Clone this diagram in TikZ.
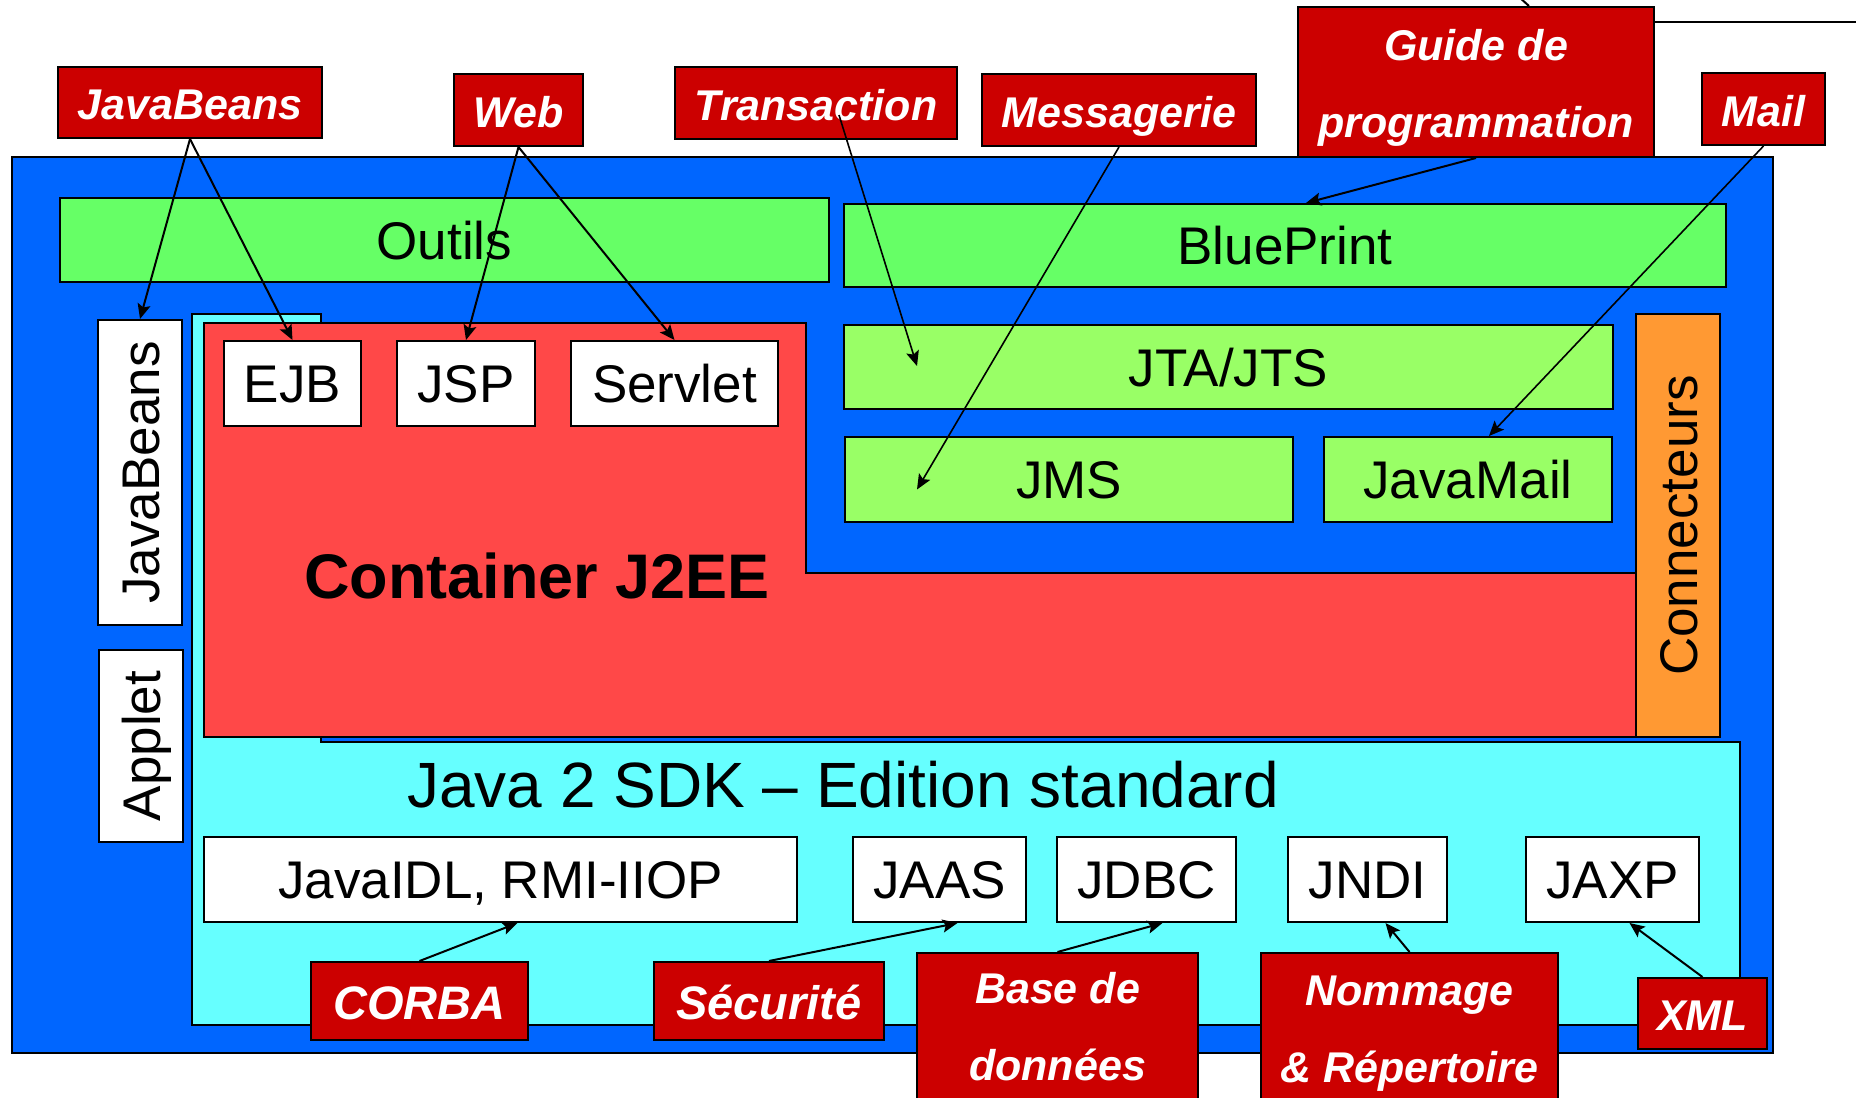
\documentclass[tikz,border=0pt]{standalone}
\usepackage{fontspec}
\setmainfont{Liberation Sans}
\usetikzlibrary{arrows.meta,calc}
\definecolor{blueC}{HTML}{0066FF}
\definecolor{greenA}{HTML}{66FF66}
\definecolor{greenB}{HTML}{99FF66}
\definecolor{redC}{HTML}{FF4848}
\definecolor{cyanC}{HTML}{66FFFF}
\definecolor{orangeC}{HTML}{FF9933}
\definecolor{lblred}{HTML}{CC0000}
\tikzset{
  bx/.style={draw=black, line width=2pt, inner sep=0pt, text height=38pt, text depth=0pt, font=\fontsize{53}{60}\selectfont},
  lbl/.style={draw=black, line width=2pt, fill=lblred, text=white, inner sep=0pt, font=\fontsize{43}{77}\selectfont\bfseries\itshape, align=center},
  lblone/.style={lbl, text height=34pt, text depth=0pt},
  lblbig/.style={lbl, font=\fontsize{47}{77}\selectfont\bfseries\itshape, text height=36pt, text depth=0pt},
  arr/.style={-{Stealth[length=15pt,width=13pt,inset=3pt]}, line width=2pt},
  arrt/.style={-{Stealth[length=15pt,width=13pt,inset=3pt]}, line width=1.6pt},
  plain/.style={line width=2pt}
}
\begin{document}
\begin{tikzpicture}[x=1pt,y=-1pt]
\useasboundingbox (0,0) rectangle (1856,1098);
\clip (0,0) rectangle (1856,1098);
% outer blue
\draw[plain, fill=blueC] (12,157) rectangle (1773,1053);
% top bars
\node[bx, fill=greenA, minimum width=769pt, minimum height=84pt] (outils) at (444.5,240) {Outils};
\node[bx, fill=greenA, minimum width=882pt, minimum height=83pt] (bp) at (1285,245.5) {BluePrint};
% left vertical boxes
\node[bx, fill=white, rotate=90, minimum width=305pt, minimum height=84pt] (jbw) at (140,472.5) {JavaBeans};
\node[bx, fill=white, rotate=90, minimum width=192pt, minimum height=84pt] (applet) at (141,746) {Applet};
% cyan SDK shape
\draw[plain, fill=cyanC] (192,314) -- (321,314) -- (321,742) -- (1740,742) -- (1740,1025) -- (192,1025) -- cycle;
% red container shape
\draw[plain, fill=redC] (204,323) -- (806,323) -- (806,573) -- (1636,573) -- (1636,737) -- (204,737) -- cycle;
% connecteurs
\node[bx, fill=orangeC, rotate=90, minimum width=423pt, minimum height=84pt] (conn) at (1678,525.5) {Connecteurs};
% services
\node[bx, fill=greenB, minimum width=769pt, minimum height=84pt] (jta) at (1228.5,367) {JTA/JTS};
\node[bx, fill=greenB, minimum width=448pt, minimum height=85pt] (jms) at (1069,479.5) {JMS};
\node[bx, fill=greenB, minimum width=288pt, minimum height=85pt] (jmail) at (1468,479.5) {JavaMail};
% web components
\node[bx, fill=white, minimum width=137pt, minimum height=85pt] (ejb) at (292.5,383.5) {EJB};
\node[bx, fill=white, minimum width=138pt, minimum height=85pt] (jsp) at (466,383.5) {JSP};
\node[bx, fill=white, minimum width=207pt, minimum height=85pt] (servlet) at (674.5,383.5) {Servlet};
% titles
\node[font=\fontsize{63}{70}\selectfont\bfseries, anchor=base, inner sep=0pt] (cont) at (537,598) {Container J2EE};
\node[font=\fontsize{64}{70}\selectfont, anchor=base, inner sep=0pt] (sdk) at (843,807) {Java 2 SDK – Edition standard};
% SDK APIs
\node[bx, fill=white, minimum width=593pt, minimum height=85pt] (idl) at (500.5,879.5) {JavaIDL, RMI-IIOP};
\node[bx, fill=white, minimum width=173pt, minimum height=85pt] (jaas) at (939.5,879.5) {JAAS};
\node[bx, fill=white, minimum width=179pt, minimum height=85pt] (jdbc) at (1146.5,879.5) {JDBC};
\node[bx, fill=white, minimum width=159pt, minimum height=85pt] (jndi) at (1367.5,879.5) {JNDI};
\node[bx, fill=white, minimum width=173pt, minimum height=85pt] (jaxp) at (1612.5,879.5) {JAXP};
% labels
\node[lblone, minimum width=264pt, minimum height=71pt] (lJB) at (190,102.5) {JavaBeans};
\node[lblone, minimum width=129pt, minimum height=72pt] (lWeb) at (518.5,110) {Web};
\node[lblone, minimum width=282pt, minimum height=72pt] (lTrans) at (816,103) {Transaction};
\node[lblone, minimum width=274pt, minimum height=72pt] (lMsg) at (1119,110) {Messagerie};
\node[lbl, minimum width=356pt, minimum height=150pt] (lGuide) at (1476,82) {\rule{0pt}{42pt}Guide de\\programmation};
\node[lblone, minimum width=123pt, minimum height=72pt] (lMail) at (1763.5,109) {Mail};
\node[lblbig, minimum width=217pt, minimum height=78pt] (lCorba) at (419.5,1001) {CORBA};
\node[lblbig, minimum width=230pt, minimum height=78pt] (lSec) at (769,1001) {Sécurité};
\node[lbl, minimum width=281pt, minimum height=147pt] (lBase) at (1057.5,1026.5) {Base de\\données};
\node[lbl, minimum width=297pt, minimum height=155pt] (lNom) at (1409.5,1030.5) {\rule{0pt}{36pt}Nommage\\\& Répertoire};
\node[lblone, minimum width=129pt, minimum height=71pt] (lXML) at (1702.5,1013.5) {XML};
% connectors
\draw[arr] (lJB.south) -- (jbw.east);
\draw[arr] (lJB.south) -- (ejb.north);
\draw[arr] (lWeb.south) -- (jsp.north);
\draw[arr] (lWeb.south) -- (servlet.north);
\draw[arrt] ($(lTrans.center)+(23,12)$) -- ($(jta.west)+(74,-1)$);
\draw[arrt] (lMsg.south) -- ($(jms.west)+(73,10)$);
\draw[arr] (lGuide.south) -- ($(bp.north)+(21,0)$);
\draw[arrt] (lMail.south) -- ($(jmail.north)+(21,0)$);
\draw[arr] (lCorba.north) -- ($(idl.south)+(17,0)$);
\draw[arr] (lSec.north) -- ($(jaas.south)+(18,0)$);
\draw[arr] (lBase.north) -- ($(jdbc.south)+(16,0)$);
\draw[arr] (lNom.north) -- ($(jndi.south)+(18,0)$);
\draw[arr] (lXML.north) -- ($(jaxp.south)+(17,0)$);
% fragments of outside connectors
\coordinate (offA) at (1519,-3);
\coordinate (offB) at (1860,22);
\draw[plain] (offA) -- ($(lGuide.north west)+(232,0)$);
\draw[plain] ($(lGuide.north east)+(0,16)$) -- (offB);
\end{tikzpicture}
\end{document}
